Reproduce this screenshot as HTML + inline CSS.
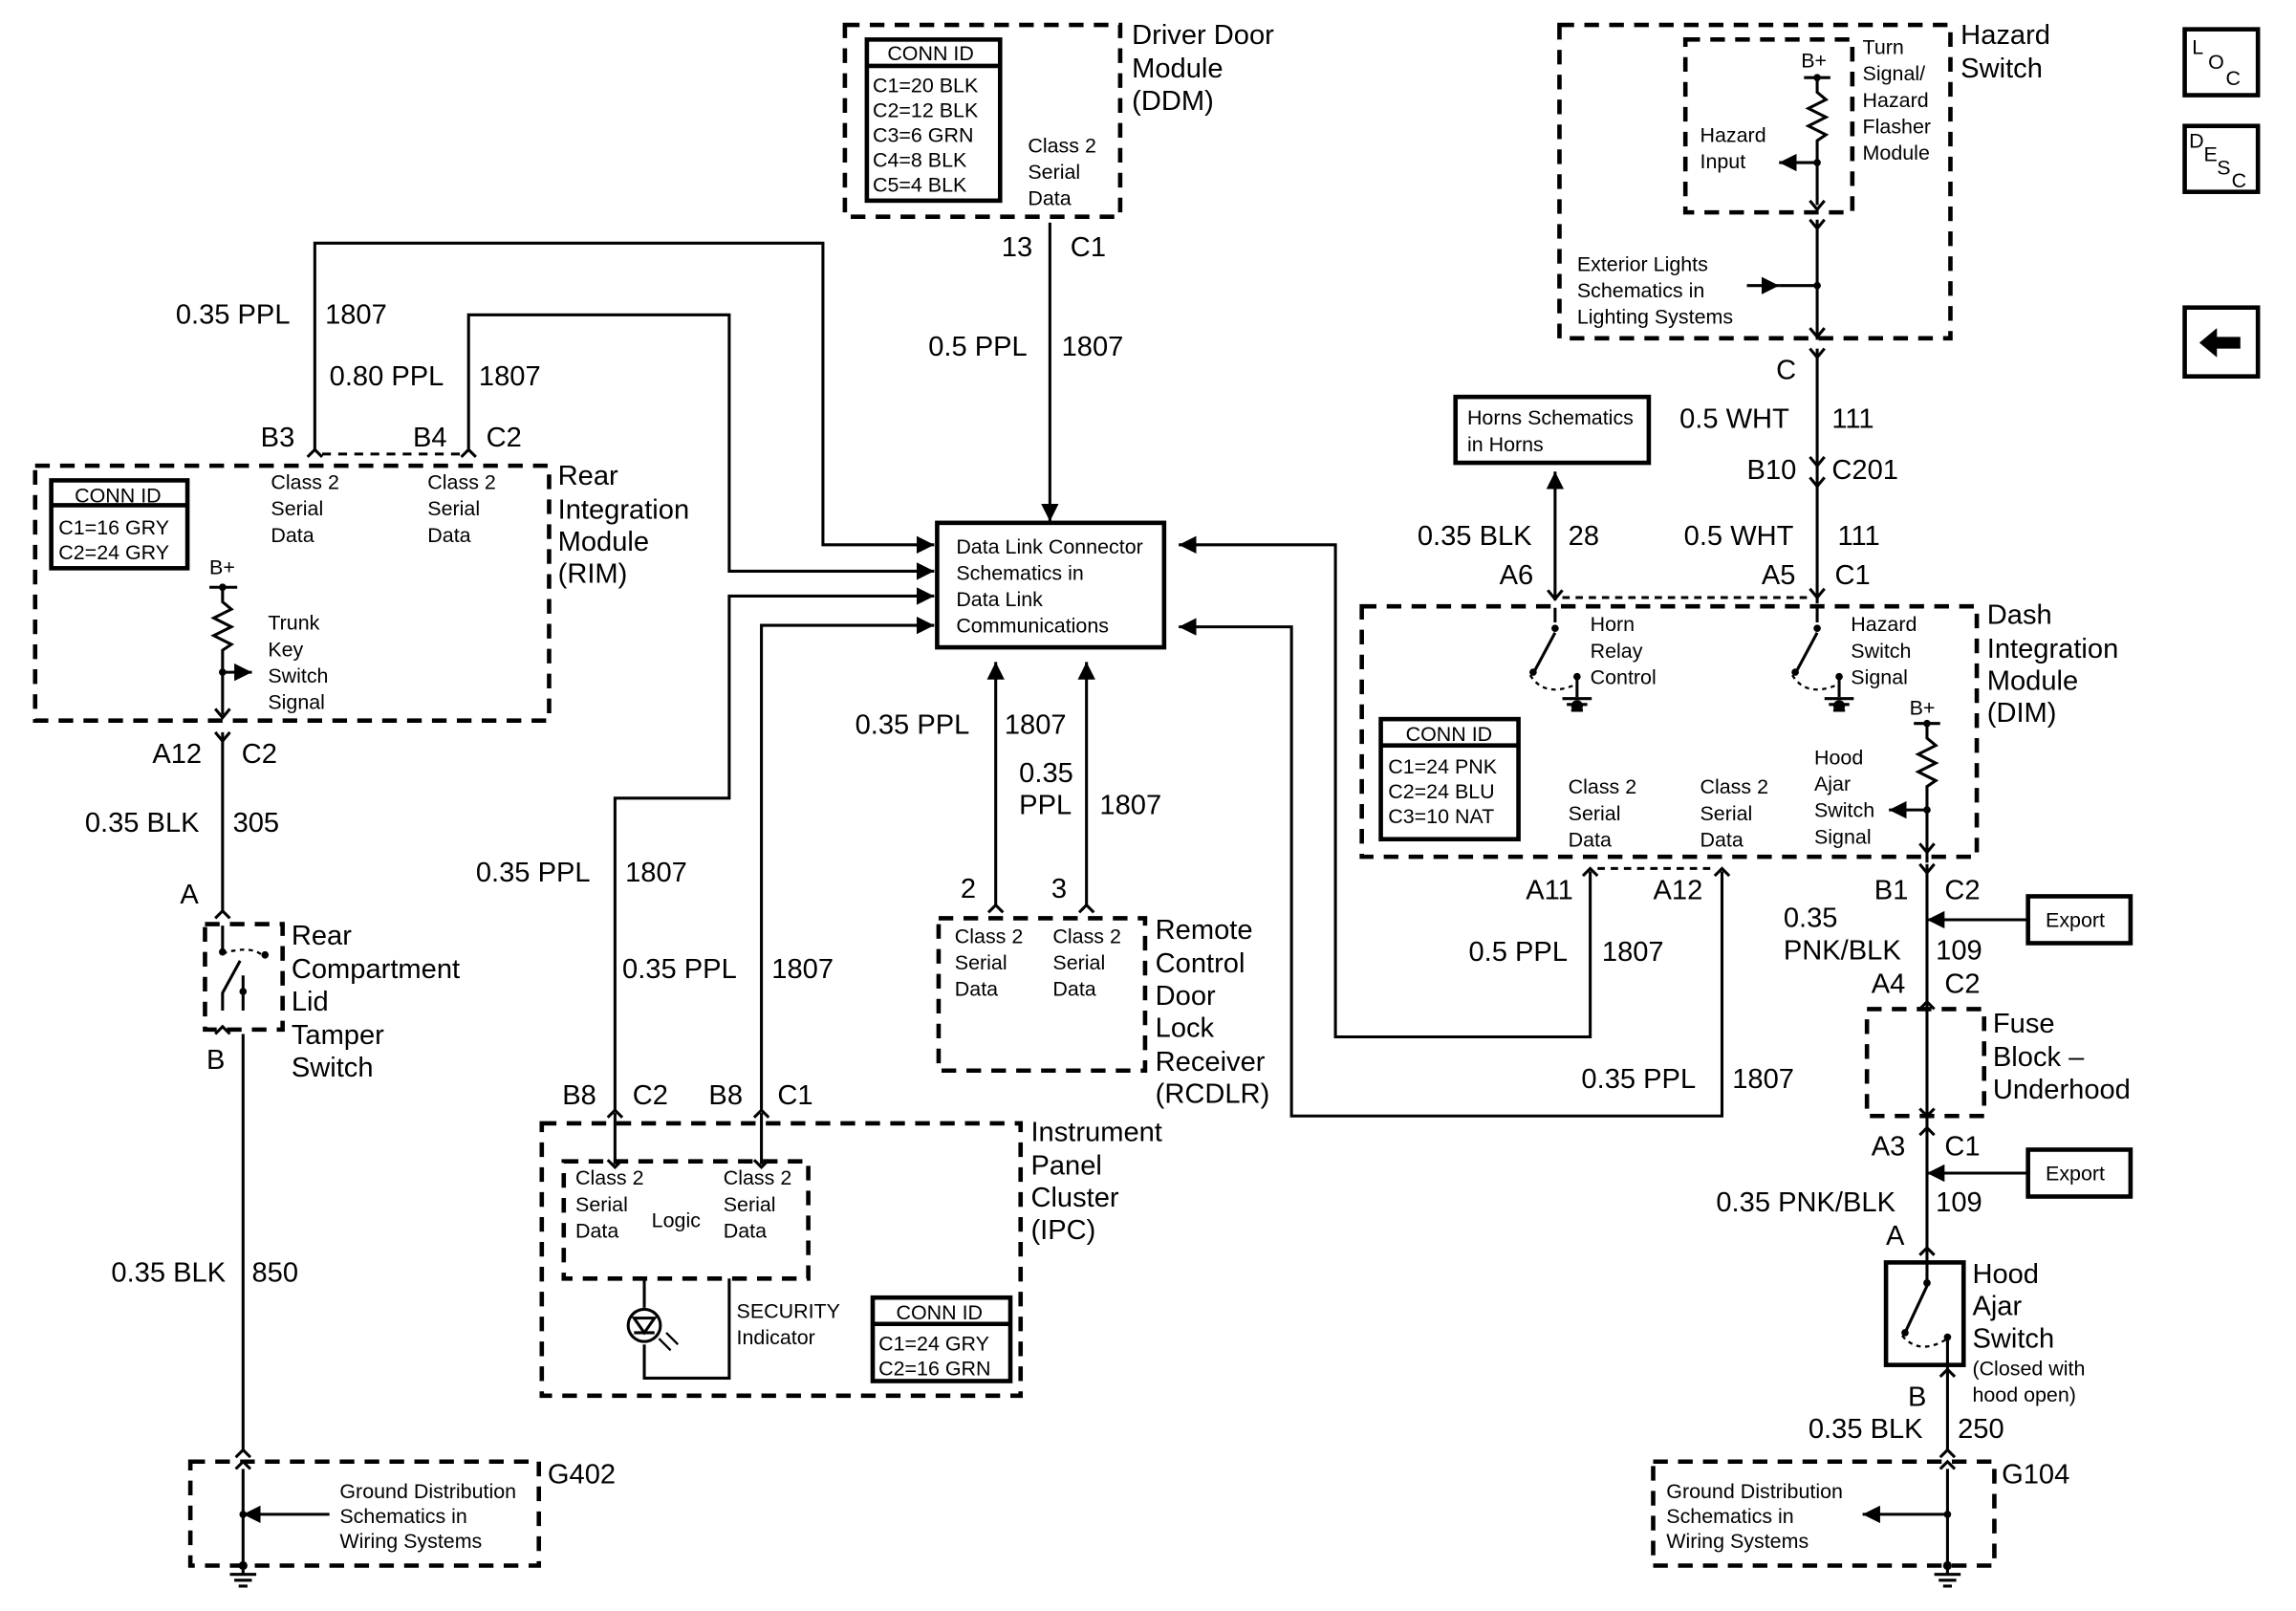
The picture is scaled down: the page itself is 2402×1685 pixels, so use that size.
<!DOCTYPE html>
<html><head><meta charset="utf-8"><style>
html,body{margin:0;padding:0;background:#fff;}
svg{display:block;}
text{font-family:"Liberation Sans",Arial,sans-serif;fill:#000;}
.b{font-size:19px;}
.s{font-size:14px;}
.d{fill:none;stroke:#000;stroke-width:3;stroke-dasharray:10,7;}
.w{fill:none;stroke:#000;stroke-width:2;}
.r{fill:none;stroke:#000;stroke-width:3;}
.t{fill:none;stroke:#000;stroke-width:1.5;}
</style></head><body>
<svg width="2402" height="1685" viewBox="0 0 1568 1100" preserveAspectRatio="none" xmlns="http://www.w3.org/2000/svg">
<defs>
<marker id="a" viewBox="0 0 10 10" refX="10" refY="5" markerWidth="6" markerHeight="6" orient="auto-start-reverse"><path d="M0,0L10,5L0,10z" fill="#000"/></marker>
</defs>

<!-- DDM -->
<rect x="577" y="17" width="188" height="131" class="d"/>
<rect x="592" y="27" width="91" height="110" class="r"/>
<line x1="592" y1="45" x2="683" y2="45" class="r"/>
<text x="606" y="41" class="s">CONN ID</text>
<text x="596" y="63" class="s">C1=20 BLK</text>
<text x="596" y="80" class="s">C2=12 BLK</text>
<text x="596" y="97" class="s">C3=6 GRN</text>
<text x="596" y="114" class="s">C4=8 BLK</text>
<text x="596" y="131" class="s">C5=4 BLK</text>
<text x="702" y="104" class="s">Class 2</text>
<text x="702" y="122" class="s">Serial</text>
<text x="702" y="140" class="s">Data</text>
<text x="773" y="30" class="b">Driver Door</text>
<text x="773" y="53" class="b">Module</text>
<text x="773" y="75" class="b">(DDM)</text>
<line x1="717" y1="152" x2="717" y2="356" class="w" marker-end="url(#a)"/>
<text x="684" y="175" class="b">13</text><text x="731" y="175" class="b">C1</text>
<text x="634" y="243" class="b">0.5 PPL</text><text x="725" y="243" class="b">1807</text>

<!-- DLC -->
<rect x="640" y="357" width="155" height="85" class="r"/>
<text x="653" y="378" class="s">Data Link Connector</text>
<text x="653" y="396" class="s">Schematics in</text>
<text x="653" y="414" class="s">Data Link</text>
<text x="653" y="432" class="s">Communications</text>

<!-- RIM -->
<rect x="24" y="318" width="351" height="174" class="d"/>
<rect x="35" y="328" width="93" height="60" class="r"/>
<line x1="35" y1="345" x2="128" y2="345" class="r"/>
<text x="51" y="343" class="s">CONN ID</text>
<text x="40" y="365" class="s">C1=16 GRY</text>
<text x="40" y="382" class="s">C2=24 GRY</text>
<text x="185" y="334" class="s">Class 2</text><text x="185" y="352" class="s">Serial</text><text x="185" y="370" class="s">Data</text>
<text x="292" y="334" class="s">Class 2</text><text x="292" y="352" class="s">Serial</text><text x="292" y="370" class="s">Data</text>
<text x="381" y="331" class="b">Rear</text>
<text x="381" y="354" class="b">Integration</text>
<text x="381" y="376" class="b">Module</text>
<text x="381" y="398" class="b">(RIM)</text>
<text x="143" y="392" class="s">B+</text>
<line x1="143" y1="401" x2="162" y2="401" class="w"/>
<circle cx="152" cy="401" r="2.5"/>
<path d="M152,401 v10 l6,5 -12,6 12,6 -12,6 12,6 -6,4 v14 v30" class="w"/>
<circle cx="152" cy="459" r="2.5"/>
<line x1="152" y1="459" x2="172" y2="459" class="w" marker-end="url(#a)"/>
<path d="M147,484 l5,6 5,-6" class="w"/>
<text x="183" y="430" class="s">Trunk</text><text x="183" y="448" class="s">Key</text><text x="183" y="466" class="s">Switch</text><text x="183" y="484" class="s">Signal</text>
<text x="178" y="305" class="b">B3</text><text x="282" y="305" class="b">B4</text><text x="332" y="305" class="b">C2</text>
<path d="M210,312 l5,-5 5,5 M315,312 l5,-5 5,5" class="w"/>
<line x1="220" y1="310" x2="315" y2="310" class="w" stroke-dasharray="6,5"/>
<path d="M215,307 V166 H562 V372 H638" class="w" marker-end="url(#a)"/>
<path d="M320,307 V215 H498 V390 H638" class="w" marker-end="url(#a)"/>
<text x="120" y="221" class="b">0.35 PPL</text><text x="222" y="221" class="b">1807</text>
<text x="225" y="263" class="b">0.80 PPL</text><text x="327" y="263" class="b">1807</text>

<!-- Rear lid -->
<path d="M147,500 l5,6 5,-6" class="w"/>
<line x1="152" y1="500" x2="152" y2="622" class="w"/>
<text x="104" y="521" class="b">A12</text><text x="165" y="521" class="b">C2</text>
<text x="58" y="568" class="b">0.35 BLK</text><text x="159" y="568" class="b">305</text>
<text x="123" y="617" class="b">A</text>
<path d="M147,627 l5,-5 5,5" class="w"/>
<rect x="140" y="631" width="53" height="72" class="d"/>
<path d="M152,632 v16 M152,690 v-12 l12,-22 M166,666 v24" class="w"/>
<circle cx="152" cy="650" r="2.5"/><circle cx="181" cy="652" r="2.5"/><circle cx="166" cy="677" r="2.5"/>
<path d="M152,651 q20,-6 28,2" class="t" stroke-dasharray="3,3"/>
<path d="M147,706 l5,-5 5,5" class="w"/>
<text x="141" y="730" class="b">B</text>
<text x="199" y="645" class="b">Rear</text><text x="199" y="668" class="b">Compartment</text><text x="199" y="690" class="b">Lid</text><text x="199" y="713" class="b">Tamper</text><text x="199" y="735" class="b">Switch</text>
<line x1="166" y1="706" x2="166" y2="990" class="w"/>
<text x="76" y="875" class="b">0.35 BLK</text><text x="172" y="875" class="b">850</text>

<!-- G402 -->
<path d="M161,995 l5,-5 5,5 M161,1003 l5,-5 5,5" class="w"/>
<rect x="130" y="998" width="238" height="71" class="d"/>
<line x1="166" y1="1003" x2="166" y2="1075" class="w"/>
<circle cx="166" cy="1034" r="2.5"/>
<line x1="225" y1="1034" x2="166" y2="1034" class="w" marker-end="url(#a)"/>
<path d="M157,1075 h18 M160,1079 h12 M163,1083 h6" class="w"/>
<circle cx="166" cy="1069" r="3"/>
<text x="232" y="1023" class="s">Ground Distribution</text><text x="232" y="1040" class="s">Schematics in</text><text x="232" y="1057" class="s">Wiring Systems</text>
<text x="374" y="1013" class="b">G402</text>

<!-- IPC -->
<path d="M420,758 V545 H498 V407 H638" class="w" marker-end="url(#a)"/>
<path d="M520,758 V427 H638" class="w" marker-end="url(#a)"/>
<text x="325" y="602" class="b">0.35 PPL</text><text x="427" y="602" class="b">1807</text>
<text x="425" y="668" class="b">0.35 PPL</text><text x="527" y="668" class="b">1807</text>
<text x="384" y="754" class="b">B8</text><text x="432" y="754" class="b">C2</text>
<text x="484" y="754" class="b">B8</text><text x="531" y="754" class="b">C1</text>
<path d="M415,763 l5,-5 5,5 M415,792 l5,5 5,-5 M420,760 V795 M515,763 l5,-5 5,5 M515,792 l5,5 5,-5 M520,760 V795" class="w"/>
<rect x="370" y="767" width="327" height="186" class="d"/>
<rect x="385" y="793" width="167" height="80" class="d"/>
<text x="393" y="809" class="s">Class 2</text><text x="393" y="827" class="s">Serial</text><text x="393" y="845" class="s">Data</text>
<text x="494" y="809" class="s">Class 2</text><text x="494" y="827" class="s">Serial</text><text x="494" y="845" class="s">Data</text>
<text x="445" y="838" class="s">Logic</text>
<path d="M440,873 V893 M440,918 V941 H498 V873" class="w"/>
<circle cx="440" cy="905" r="11" class="w"/>
<path d="M433,900 h14 l-7,10z M433,910 h14" class="w"/>
<path d="M450,914 l8,8 M455,910 l8,8" class="t"/>
<text x="503" y="900" class="s">SECURITY</text><text x="503" y="918" class="s">Indicator</text>
<rect x="596" y="886" width="94" height="57" class="r"/>
<line x1="596" y1="904" x2="690" y2="904" class="r"/>
<text x="612" y="901" class="s">CONN ID</text>
<text x="600" y="922" class="s">C1=24 GRY</text><text x="600" y="939" class="s">C2=16 GRN</text>
<text x="704" y="779" class="b">Instrument</text><text x="704" y="802" class="b">Panel</text><text x="704" y="824" class="b">Cluster</text><text x="704" y="846" class="b">(IPC)</text>

<!-- RCDLR -->
<line x1="680" y1="618" x2="680" y2="452" class="w" marker-end="url(#a)"/>
<line x1="742" y1="618" x2="742" y2="452" class="w" marker-end="url(#a)"/>
<path d="M675,623 l5,-5 5,5 M737,623 l5,-5 5,5" class="w"/>
<text x="584" y="501" class="b">0.35 PPL</text><text x="686" y="501" class="b">1807</text>
<text x="696" y="534" class="b">0.35</text><text x="696" y="556" class="b">PPL</text><text x="751" y="556" class="b">1807</text>
<text x="656" y="613" class="b">2</text><text x="718" y="613" class="b">3</text>
<rect x="641" y="627" width="141" height="104" class="d"/>
<text x="652" y="644" class="s">Class 2</text><text x="652" y="662" class="s">Serial</text><text x="652" y="680" class="s">Data</text>
<text x="719" y="644" class="s">Class 2</text><text x="719" y="662" class="s">Serial</text><text x="719" y="680" class="s">Data</text>
<text x="789" y="641" class="b">Remote</text><text x="789" y="664" class="b">Control</text><text x="789" y="686" class="b">Door</text><text x="789" y="708" class="b">Lock</text><text x="789" y="731" class="b">Receiver</text><text x="789" y="753" class="b">(RCDLR)</text>

<!-- Hazard switch -->
<rect x="1065" y="17" width="267" height="214" class="d"/>
<rect x="1151" y="27" width="114" height="118" class="d"/>
<text x="1230" y="46" class="s">B+</text>
<line x1="1232" y1="53" x2="1250" y2="53" class="w"/>
<circle cx="1241" cy="53" r="2.5"/>
<path d="M1241,53 v10 l6,5 -12,6 12,6 -12,6 12,6 -6,4 v44" class="w"/>
<circle cx="1241" cy="111" r="2.5"/>
<line x1="1241" y1="111" x2="1215" y2="111" class="w" marker-end="url(#a)"/>
<path d="M1236,137 l5,6 5,-6 M1236,150 l5,6 5,-6" class="w"/>
<text x="1161" y="97" class="s">Hazard</text><text x="1161" y="115" class="s">Input</text>
<text x="1272" y="37" class="s">Turn</text><text x="1272" y="55" class="s">Signal/</text><text x="1272" y="73" class="s">Hazard</text><text x="1272" y="91" class="s">Flasher</text><text x="1272" y="109" class="s">Module</text>
<line x1="1241" y1="150" x2="1241" y2="232" class="w"/>
<circle cx="1241" cy="195" r="2.5"/>
<line x1="1193" y1="195" x2="1215" y2="195" class="w" marker-end="url(#a)"/>
<line x1="1215" y1="195" x2="1241" y2="195" class="w"/>
<text x="1077" y="185" class="s">Exterior Lights</text><text x="1077" y="203" class="s">Schematics in</text><text x="1077" y="221" class="s">Lighting Systems</text>
<text x="1339" y="30" class="b">Hazard</text><text x="1339" y="53" class="b">Switch</text>
<path d="M1236,224 l5,6 5,-6 M1236,238 l5,6 5,-6 M1236,312 l5,6 5,-6 M1236,326 l5,6 5,-6 M1236,402 l5,6 5,-6" class="w"/>
<line x1="1241" y1="238" x2="1241" y2="412" class="w"/>
<text x="1213" y="259" class="b">C</text>
<text x="1147" y="292" class="b">0.5 WHT</text><text x="1251" y="292" class="b">111</text>
<text x="1193" y="327" class="b">B10</text><text x="1251" y="327" class="b">C201</text>
<text x="1150" y="372" class="b">0.5 WHT</text><text x="1255" y="372" class="b">111</text>
<text x="1203" y="399" class="b">A5</text><text x="1253" y="399" class="b">C1</text>

<!-- Horns -->
<rect x="994" y="271" width="132" height="45" class="r"/>
<text x="1002" y="290" class="s">Horns Schematics</text><text x="1002" y="308" class="s">in Horns</text>
<line x1="1062" y1="410" x2="1062" y2="322" class="w" marker-end="url(#a)"/>
<text x="968" y="372" class="b">0.35 BLK</text><text x="1071" y="372" class="b">28</text>
<text x="1024" y="399" class="b">A6</text>
<path d="M1057,403 l5,6 5,-6" class="w"/>
<line x1="1067" y1="408" x2="1236" y2="408" class="w" stroke-dasharray="5,4"/>

<!-- DIM -->
<rect x="930" y="414" width="420" height="171" class="d"/>
<path d="M1062,415 v10 M1047,460 l15,-28 M1077,462 v14" class="w"/>
<circle cx="1062" cy="429" r="2.5"/><circle cx="1047" cy="459" r="2.5"/><circle cx="1077" cy="462" r="2.5"/>
<path d="M1045,461 q10,16 32,6" class="t" stroke-dasharray="3,3"/>
<path d="M1067,477 h20 M1070,481 h14 M1073,485 h8" class="w"/>
<circle cx="1077" cy="482" r="4"/>
<text x="1086" y="431" class="s">Horn</text><text x="1086" y="449" class="s">Relay</text><text x="1086" y="467" class="s">Control</text>
<path d="M1241,415 v10 M1226,460 l15,-28 M1256,462 v14" class="w"/>
<circle cx="1241" cy="429" r="2.5"/><circle cx="1226" cy="459" r="2.5"/><circle cx="1256" cy="462" r="2.5"/>
<path d="M1224,461 q10,16 32,6" class="t" stroke-dasharray="3,3"/>
<path d="M1246,477 h20 M1249,481 h14 M1252,485 h8" class="w"/>
<circle cx="1256" cy="482" r="4"/>
<text x="1264" y="431" class="s">Hazard</text><text x="1264" y="449" class="s">Switch</text><text x="1264" y="467" class="s">Signal</text>
<rect x="943" y="491" width="94" height="82" class="r"/>
<line x1="943" y1="509" x2="1037" y2="509" class="r"/>
<text x="960" y="506" class="s">CONN ID</text>
<text x="948" y="528" class="s">C1=24 PNK</text><text x="948" y="545" class="s">C2=24 BLU</text><text x="948" y="562" class="s">C3=10 NAT</text>
<text x="1071" y="542" class="s">Class 2</text><text x="1071" y="560" class="s">Serial</text><text x="1071" y="578" class="s">Data</text>
<text x="1161" y="542" class="s">Class 2</text><text x="1161" y="560" class="s">Serial</text><text x="1161" y="578" class="s">Data</text>
<text x="1239" y="522" class="s">Hood</text><text x="1239" y="540" class="s">Ajar</text><text x="1239" y="558" class="s">Switch</text><text x="1239" y="576" class="s">Signal</text>
<text x="1304" y="488" class="s">B+</text>
<line x1="1307" y1="494" x2="1325" y2="494" class="w"/>
<circle cx="1316" cy="494" r="2.5"/>
<path d="M1316,494 v10 l6,5 -12,6 12,6 -12,6 12,6 -6,4 v52" class="w"/>
<circle cx="1316" cy="553" r="2.5"/>
<line x1="1316" y1="553" x2="1290" y2="553" class="w" marker-end="url(#a)"/>
<path d="M1311,576 l5,6 5,-6" class="w"/>
<text x="1357" y="426" class="b">Dash</text><text x="1357" y="449" class="b">Integration</text><text x="1357" y="471" class="b">Module</text><text x="1357" y="493" class="b">(DIM)</text>

<!-- DIM A11 A12 -->
<path d="M1081,598 l5,-5 5,5 M1171,598 l5,-5 5,5" class="w"/>
<line x1="1091" y1="593" x2="1171" y2="593" class="w" stroke-dasharray="5,4"/>
<text x="1042" y="614" class="b">A11</text><text x="1129" y="614" class="b">A12</text>
<path d="M1086,595 V708 H912 V372 H805" class="w" marker-end="url(#a)"/>
<path d="M1176,595 V762 H882 V428 H805" class="w" marker-end="url(#a)"/>
<text x="1003" y="656" class="b">0.5 PPL</text><text x="1094" y="656" class="b">1807</text>
<text x="1080" y="743" class="b">0.35 PPL</text><text x="1183" y="743" class="b">1807</text>

<!-- right column -->
<path d="M1311,590 l5,6 5,-6" class="w"/>
<line x1="1316" y1="590" x2="1316" y2="862" class="w"/>
<text x="1280" y="614" class="b">B1</text><text x="1328" y="614" class="b">C2</text>
<text x="1218" y="633" class="b">0.35</text><text x="1218" y="655" class="b">PNK/BLK</text><text x="1322" y="655" class="b">109</text>
<line x1="1385" y1="628" x2="1316" y2="628" class="w" marker-end="url(#a)"/>
<rect x="1385" y="612" width="70" height="32" class="r"/>
<text x="1397" y="633" class="s">Export</text>
<text x="1278" y="678" class="b">A4</text><text x="1328" y="678" class="b">C2</text>
<path d="M1311,689 l5,-5 5,5 M1311,757 l5,5 5,-5" class="w"/>
<rect x="1275" y="689" width="80" height="73" class="d"/>
<text x="1361" y="705" class="b">Fuse</text><text x="1361" y="728" class="b">Block –</text><text x="1361" y="750" class="b">Underhood</text>
<text x="1278" y="789" class="b">A3</text><text x="1328" y="789" class="b">C1</text>
<path d="M1311,775 l5,-5 5,5" class="w"/>
<line x1="1385" y1="801" x2="1316" y2="801" class="w" marker-end="url(#a)"/>
<rect x="1385" y="785" width="70" height="32" class="r"/>
<text x="1397" y="806" class="s">Export</text>
<text x="1172" y="827" class="b">0.35 PNK/BLK</text><text x="1322" y="827" class="b">109</text>
<text x="1288" y="850" class="b">A</text>
<path d="M1311,857 l5,-5 5,5" class="w"/>
<rect x="1288" y="862" width="53" height="70" class="r"/>
<path d="M1316,862 v12 M1301,910 l15,-32 M1330,914 v18" class="w"/>
<circle cx="1316" cy="876" r="2.5"/><circle cx="1301" cy="910" r="2.5"/><circle cx="1330" cy="913" r="2.5"/>
<path d="M1299,912 q12,14 31,2" class="t" stroke-dasharray="3,3"/>
<text x="1347" y="876" class="b">Hood</text><text x="1347" y="898" class="b">Ajar</text><text x="1347" y="920" class="b">Switch</text>
<text x="1347" y="939" class="s">(Closed with</text><text x="1347" y="957" class="s">hood open)</text>
<path d="M1325,940 l5,-5 5,5" class="w"/>
<line x1="1330" y1="932" x2="1330" y2="990" class="w"/>
<text x="1303" y="960" class="b">B</text>
<text x="1235" y="982" class="b">0.35 BLK</text><text x="1337" y="982" class="b">250</text>
<!-- G104 -->
<path d="M1325,995 l5,-5 5,5 M1325,1003 l5,-5 5,5" class="w"/>
<rect x="1129" y="998" width="233" height="71" class="d"/>
<line x1="1330" y1="1003" x2="1330" y2="1075" class="w"/>
<circle cx="1330" cy="1034" r="2.5"/>
<line x1="1272" y1="1034" x2="1330" y2="1034" class="w"/>
<path d="M1272,1034 l12,-6 v12z" fill="#000"/>
<path d="M1321,1075 h18 M1324,1079 h12 M1327,1083 h6" class="w"/>
<circle cx="1330" cy="1069" r="3"/>
<text x="1138" y="1023" class="s">Ground Distribution</text><text x="1138" y="1040" class="s">Schematics in</text><text x="1138" y="1057" class="s">Wiring Systems</text>
<text x="1367" y="1013" class="b">G104</text>

<!-- icons -->
<rect x="1492" y="20" width="50" height="45" class="r"/>
<text x="1497" y="37" class="s">L</text><text x="1508" y="47" class="s">O</text><text x="1520" y="58" class="s">C</text>
<rect x="1492" y="86" width="50" height="45" class="r"/>
<text x="1495" y="101" class="s">D</text><text x="1505" y="110" class="s">E</text><text x="1514" y="119" class="s">S</text><text x="1524" y="128" class="s">C</text>
<rect x="1492" y="210" width="50" height="47" class="r"/>
<path d="M1502,234 l12,-10 v6 h16 v8 h-16 v6z" fill="#000"/>
</svg>
</body></html>
